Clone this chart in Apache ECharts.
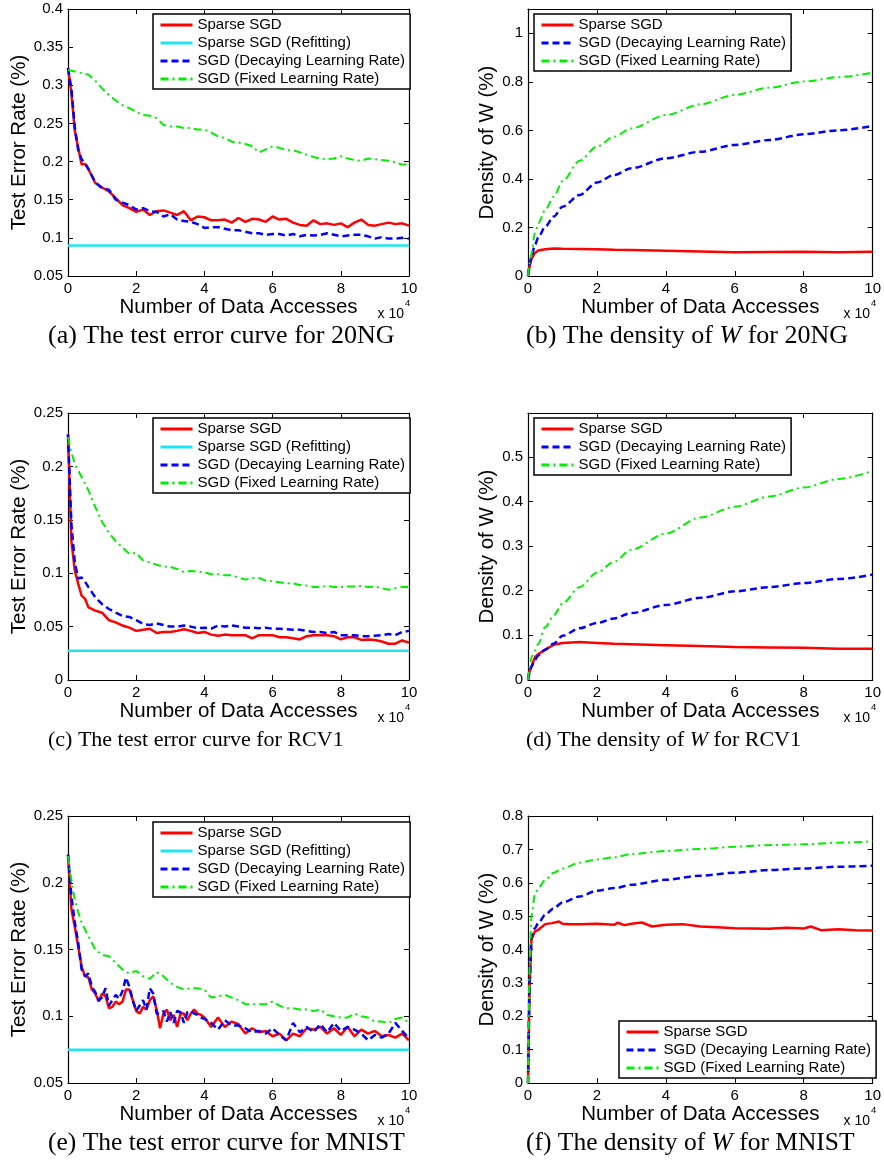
<!DOCTYPE html>
<html>
<head>
<meta charset="utf-8">
<script src="https://cdn.jsdelivr.net/npm/echarts@6/dist/echarts.min.js"></script>
<style>
html, body { margin: 0; padding: 0; background: #fff; }
#chart { width: 884px; height: 1167px; }
</style>
</head>
<body>
<div id="chart"></div>
<script>
const SANS = '"Liberation Sans", Arial, sans-serif'
const SERIF = '"Liberation Serif", "Times New Roman", serif'

// x positions (units of 10^4 data accesses)
const errX = [0, 0.1, 0.2, 0.3, 0.4, 0.5, 0.6, 0.8, 1, 1.2, 1.4, 1.6, 1.8, 2, 2.2, 2.4, 2.6, 2.8, 3, 3.2, 3.4, 3.6, 3.8, 4,
  4.2, 4.4, 4.6, 4.8, 5, 5.2, 5.4, 5.6, 5.8, 6, 6.2, 6.4, 6.6, 6.8, 7, 7.2, 7.4, 7.6, 7.8, 8, 8.2, 8.4, 8.6, 8.8, 9,
  9.2, 9.4, 9.6, 9.8, 10]
const mnistX = [0, 0.1, 0.2, 0.3, 0.4, 0.5, 0.6, 0.7, 0.8, 0.9, 1, 1.1, 1.2, 1.3, 1.4, 1.5, 1.6, 1.7, 1.8, 1.9, 2, 2.1,
  2.2, 2.3, 2.4, 2.5, 2.6, 2.7, 2.8, 2.9, 3, 3.1, 3.2, 3.3, 3.4, 3.5, 3.6, 3.7, 3.8, 3.9, 4, 4.2, 4.4, 4.6, 4.8, 5,
  5.2, 5.4, 5.6, 5.8, 6, 6.2, 6.4, 6.6, 6.8, 7, 7.2, 7.4, 7.6, 7.8, 8, 8.2, 8.4, 8.6, 8.8, 9, 9.2, 9.4, 9.6, 9.8, 10]
const denX = [0, 0.05, 0.1, 0.2, 0.3, 0.5, 0.75, 1, 1.5, 2, 2.5, 3, 4, 5, 6, 7, 8, 9, 10]
const mnistDenRedX = [0, 0.05, 0.1, 0.2, 0.3, 0.5, 0.7, 0.9, 1, 1.2, 1.5, 2, 2.5, 2.6, 2.8, 3, 3.3, 3.6, 4, 4.5, 5,
  5.5, 6, 6.5, 7, 7.5, 8, 8.2, 8.5, 9, 9.5, 10]
const refitX = [0, 10]

// (a) 20NG test error
const ngErrSparse = [0.3225, 0.29, 0.24, 0.218, 0.196, 0.197, 0.19, 0.172, 0.166, 0.161, 0.152, 0.143, 0.139, 0.134,
  0.137, 0.130, 0.135, 0.136, 0.133, 0.130, 0.135, 0.123, 0.128, 0.127, 0.123, 0.123, 0.124, 0.120, 0.126, 0.121,
  0.125, 0.124, 0.121, 0.128, 0.124, 0.125, 0.120, 0.117, 0.116, 0.123, 0.118, 0.119, 0.117, 0.119, 0.114, 0.120,
  0.124, 0.117, 0.116, 0.118, 0.120, 0.118, 0.119, 0.116]
const ngErrRefit = [0.09, 0.09]
const ngErrDecay = [0.3225, 0.295, 0.245, 0.215, 0.203, 0.198, 0.19, 0.173, 0.165, 0.163, 0.150, 0.146, 0.143, 0.137,
  0.139, 0.135, 0.134, 0.128, 0.131, 0.124, 0.122, 0.121, 0.118, 0.113, 0.114, 0.114, 0.112, 0.110, 0.110, 0.108,
  0.106, 0.106, 0.104, 0.105, 0.105, 0.103, 0.105, 0.102, 0.104, 0.103, 0.104, 0.106, 0.104, 0.102, 0.103, 0.104,
  0.104, 0.102, 0.099, 0.101, 0.099, 0.099, 0.100, 0.099]
const ngErrFixed = [0.320, 0.319, 0.318, 0.317, 0.316, 0.315, 0.314, 0.306, 0.296, 0.287, 0.280, 0.274, 0.270, 0.265,
  0.261, 0.260, 0.257, 0.248, 0.246, 0.246, 0.244, 0.244, 0.242, 0.242, 0.238, 0.233, 0.231, 0.226, 0.225, 0.223,
  0.220, 0.212, 0.216, 0.220, 0.218, 0.215, 0.215, 0.212, 0.209, 0.206, 0.204, 0.203, 0.204, 0.207, 0.204, 0.202,
  0.201, 0.204, 0.203, 0.202, 0.201, 0.199, 0.196, 0.197]

// (b) 20NG density
const ngDenSparse = [0, 0.04, 0.07, 0.095, 0.105, 0.11, 0.113, 0.112, 0.111, 0.11, 0.108, 0.107, 0.104, 0.101, 0.098,
  0.099, 0.100, 0.098, 0.10]
const ngDenDecay = [0, 0.05, 0.08, 0.128, 0.16, 0.203, 0.245, 0.285, 0.334, 0.385, 0.416, 0.444, 0.485, 0.512, 0.54,
  0.56, 0.584, 0.60, 0.618]
const ngDenFixed = [0, 0.055, 0.093, 0.176, 0.217, 0.272, 0.327, 0.39, 0.475, 0.533, 0.574, 0.608, 0.663, 0.707,
  0.746, 0.776, 0.801, 0.819, 0.838]

// (c) RCV1 test error
const rcvErrSparse = [0.23, 0.13, 0.1025, 0.09, 0.079, 0.076, 0.068, 0.065, 0.063, 0.056, 0.054, 0.051, 0.049, 0.046,
  0.047, 0.048, 0.044, 0.045, 0.045, 0.046, 0.0475, 0.046, 0.044, 0.045, 0.0425, 0.0415, 0.0425, 0.042, 0.042,
  0.042, 0.039, 0.042, 0.042, 0.042, 0.040, 0.040, 0.039, 0.038, 0.041, 0.042, 0.042, 0.042, 0.041, 0.038, 0.040,
  0.040, 0.0375, 0.038, 0.0375, 0.036, 0.034, 0.034, 0.037, 0.035]
const rcvErrRefit = [0.0275, 0.0275]
const rcvErrDecay = [0.23, 0.146, 0.11, 0.095, 0.096, 0.092, 0.087, 0.0775, 0.071, 0.0665, 0.063, 0.060, 0.059,
  0.056, 0.0525, 0.0515, 0.053, 0.0515, 0.050, 0.050, 0.051, 0.050, 0.0485, 0.049, 0.048, 0.051, 0.050, 0.051,
  0.050, 0.049, 0.049, 0.0485, 0.049, 0.048, 0.048, 0.0475, 0.047, 0.047, 0.046, 0.045, 0.045, 0.044, 0.045, 0.042,
  0.042, 0.042, 0.041, 0.041, 0.0415, 0.042, 0.043, 0.042, 0.045, 0.046]
const rcvErrFixed = [0.2275, 0.213, 0.2025, 0.196, 0.19, 0.184, 0.1775, 0.162, 0.148, 0.138, 0.13, 0.124, 0.118,
  0.119, 0.112, 0.110, 0.108, 0.106, 0.106, 0.104, 0.101, 0.102, 0.1015, 0.101, 0.099, 0.099, 0.098, 0.098, 0.096,
  0.094, 0.0955, 0.0955, 0.093, 0.0925, 0.0915, 0.0905, 0.0905, 0.089, 0.0885, 0.087, 0.087, 0.088, 0.087, 0.087,
  0.0875, 0.0875, 0.088, 0.087, 0.0875, 0.086, 0.0845, 0.086, 0.087, 0.087]

// (d) RCV1 density
const rcvDenSparse = [0, 0.02, 0.03, 0.051, 0.058, 0.068, 0.079, 0.083, 0.085, 0.083, 0.081, 0.080, 0.078, 0.076,
  0.074, 0.073, 0.072, 0.070, 0.070]
const rcvDenDecay = [0, 0.02, 0.03, 0.045, 0.055, 0.068, 0.082, 0.099, 0.116, 0.1275, 0.138, 0.15, 0.168, 0.184,
  0.1985, 0.208, 0.217, 0.226, 0.236]
const rcvDenFixed = [0, 0.03, 0.051, 0.066, 0.081, 0.118, 0.145, 0.171, 0.208, 0.24, 0.265, 0.292, 0.328, 0.364,
  0.388, 0.411, 0.431, 0.45, 0.4685]

// (e) MNIST test error
const mnErrSparse = [0.221, 0.18, 0.167, 0.152, 0.137, 0.13, 0.129, 0.12, 0.117, 0.111, 0.117, 0.115, 0.106, 0.107,
  0.111, 0.109, 0.111, 0.120, 0.120, 0.112, 0.104, 0.102, 0.107, 0.105, 0.112, 0.115, 0.105, 0.091, 0.102, 0.105,
  0.097, 0.101, 0.092, 0.102, 0.102, 0.097, 0.102, 0.105, 0.102, 0.101, 0.099, 0.092, 0.099, 0.092, 0.096, 0.094,
  0.087, 0.091, 0.088, 0.089, 0.085, 0.087, 0.082, 0.087, 0.085, 0.091, 0.090, 0.092, 0.087, 0.091, 0.086, 0.092,
  0.085, 0.090, 0.087, 0.089, 0.085, 0.086, 0.084, 0.087, 0.082]
const mnErrRefit = [0.075, 0.075]
const mnErrDecay = [0.221, 0.19, 0.17, 0.155, 0.135, 0.13, 0.132, 0.122, 0.118, 0.112, 0.114, 0.121, 0.108, 0.112,
  0.116, 0.113, 0.119, 0.129, 0.122, 0.112, 0.104, 0.108, 0.112, 0.105, 0.121, 0.117, 0.102, 0.102, 0.104, 0.096,
  0.103, 0.095, 0.104, 0.103, 0.095, 0.103, 0.104, 0.102, 0.101, 0.099, 0.098, 0.095, 0.090, 0.097, 0.093, 0.093,
  0.091, 0.088, 0.089, 0.087, 0.091, 0.086, 0.082, 0.095, 0.088, 0.092, 0.088, 0.094, 0.088, 0.095, 0.089, 0.092,
  0.090, 0.087, 0.082, 0.086, 0.084, 0.087, 0.095, 0.089, 0.083]
const mnErrFixed = [0.22, 0.202, 0.187, 0.178, 0.17, 0.165, 0.16, 0.15, 0.146, 0.145, 0.140, 0.135, 0.132, 0.134,
  0.130, 0.128, 0.133, 0.130, 0.125, 0.122, 0.120, 0.121, 0.121, 0.120, 0.114, 0.115, 0.116, 0.114, 0.112, 0.109,
  0.109, 0.109, 0.109, 0.111, 0.108, 0.106, 0.106, 0.105, 0.105, 0.104, 0.105, 0.101, 0.100, 0.099, 0.099, 0.102,
  0.100, 0.099, 0.096, 0.096, 0.095, 0.098, 0.099, 0.095]

// (f) MNIST density
const mnDenSparse = [0, 0.3, 0.43, 0.454, 0.459, 0.476, 0.479, 0.484, 0.477, 0.476, 0.476, 0.477, 0.474, 0.48, 0.473,
  0.477, 0.481, 0.469, 0.474, 0.476, 0.469, 0.467, 0.464, 0.463, 0.462, 0.465, 0.463, 0.469, 0.458, 0.461, 0.458,
  0.457]
const mnDenDecay = [0, 0.3, 0.44, 0.464, 0.479, 0.504, 0.524, 0.541, 0.559, 0.576, 0.584, 0.594, 0.609, 0.621, 0.63,
  0.638, 0.643, 0.648, 0.651]
const mnDenFixed = [0, 0.35, 0.499, 0.564, 0.584, 0.608, 0.63, 0.643, 0.66, 0.67, 0.676, 0.686, 0.695, 0.701, 0.708,
  0.713, 0.715, 0.72, 0.724]

const NAMES = {
  sparse: 'Sparse SGD',
  refit: 'Sparse SGD (Refitting)',
  decay: 'SGD (Decaying Learning Rate)',
  fixed: 'SGD (Fixed Learning Rate)',
}
const LINE = {
  sparse: { color: '#ff0000', width: 2.5, type: 'solid' },
  refit: { color: '#1ee6f0', width: 2.5, type: 'solid' },
  decay: { color: '#0000ff', width: 2.5, type: [7, 4] },
  fixed: { color: '#00ee00', width: 2, type: [8, 4, 2, 4] },
}

const panels = [
  {
    grid: { left: 68, top: 9, width: 341, height: 267 }, y: [0.05, 0.4, 0.05], yName: 'Test Error Rate (%)', yGap: 38,
    legend: { left: 153, top: 14 }, caption: '(a) The test error curve for 20NG', capX: 48, capSize: 26,
    lines: [['sparse', errX, ngErrSparse], ['refit', refitX, ngErrRefit], ['decay', errX, ngErrDecay], ['fixed', errX, ngErrFixed]],
  },
  {
    grid: { left: 528, top: 9, width: 347, height: 267 }, y: [0, 1.1, 0.2], yName: 'Density of W (%)', yGap: 30, hideMax: true,
    legend: { left: 534, top: 14 }, caption: '(b) The density of {i|W} for 20NG', capX: 526, capSize: 26,
    lines: [['sparse', denX, ngDenSparse], ['decay', denX, ngDenDecay], ['fixed', denX, ngDenFixed]], smooth: true,
  },
  {
    grid: { left: 68, top: 413, width: 341, height: 267 }, y: [0, 0.25, 0.05], yName: 'Test Error Rate (%)', yGap: 38,
    legend: { left: 153, top: 418 }, caption: '(c) The test error curve for RCV1', capX: 48, capSize: 22,
    lines: [['sparse', errX, rcvErrSparse], ['refit', refitX, rcvErrRefit], ['decay', errX, rcvErrDecay], ['fixed', errX, rcvErrFixed]],
  },
  {
    grid: { left: 528, top: 413, width: 347, height: 267 }, y: [0, 0.598, 0.1], yName: 'Density of W (%)', yGap: 30, hideMax: true,
    legend: { left: 534, top: 418 }, caption: '(d) The density of {i|W} for RCV1', capX: 526, capSize: 22,
    lines: [['sparse', denX, rcvDenSparse], ['decay', denX, rcvDenDecay], ['fixed', denX, rcvDenFixed]], smooth: true,
  },
  {
    grid: { left: 68, top: 816, width: 341, height: 267 }, y: [0.05, 0.25, 0.05], yName: 'Test Error Rate (%)', yGap: 38,
    legend: { left: 153, top: 822 }, caption: '(e) The test error curve for MNIST', capX: 48, capSize: 25.5,
    lines: [['sparse', mnistX, mnErrSparse], ['refit', refitX, mnErrRefit], ['decay', mnistX, mnErrDecay], ['fixed', errX, mnErrFixed]],
  },
  {
    grid: { left: 528, top: 816, width: 347, height: 267 }, y: [0, 0.8, 0.1], yName: 'Density of W (%)', yGap: 30,
    legend: { left: 619, top: 1021 }, caption: '(f) The density of {i|W} for MNIST', capX: 526, capSize: 25.5,
    lines: [['sparse', mnistDenRedX, mnDenSparse], ['decay', denX, mnDenDecay], ['fixed', denX, mnDenFixed]], smooth: true,
  },
]

const tickLabel = { color: '#000', fontSize: 15, fontFamily: SANS }
const axisLine = { onZero: false, lineStyle: { color: '#000', width: 1.2 } }
const axisTick = { inside: true, length: 5, lineStyle: { color: '#000', width: 1 } }

const grid = [], xAxis = [], yAxis = [], series = [], legend = [], graphic = []

panels.forEach((p, i) => {
  grid.push({ ...p.grid, show: false })
  const [yMin, yMax, yInt] = p.y
  for (const pos of ['bottom', 'top']) {
    xAxis.push({
      type: 'value', gridIndex: i, position: pos, min: 0, max: 10, interval: 2,
      axisLine, axisTick, splitLine: { show: false },
      axisLabel: { ...tickLabel, show: pos === 'bottom', margin: 5 },
      name: pos === 'bottom' ? 'Number of Data Accesses' : '', nameLocation: 'middle', nameGap: 20,
      nameTextStyle: { color: '#000', fontSize: 20.5, fontFamily: SANS },
    })
  }
  for (const pos of ['left', 'right']) {
    yAxis.push({
      type: 'value', gridIndex: i, position: pos, min: yMin, max: yMax, interval: yInt,
      axisLine, axisTick, splitLine: { show: false },
      axisLabel: { ...tickLabel, show: pos === 'left', margin: 5, showMaxLabel: !p.hideMax },
      name: pos === 'left' ? p.yName : '', nameLocation: 'middle', nameGap: p.yGap,
      nameTextStyle: { color: '#000', fontSize: 20.5, fontFamily: SANS },
    })
  }
  for (const [key, xs, ys] of p.lines) {
    series.push({
      type: 'line', name: NAMES[key], xAxisIndex: 2 * i, yAxisIndex: 2 * i,
      data: xs.map((x, k) => [x, ys[k]]),
      symbol: 'none', silent: true,
      smooth: p.smooth && key !== 'sparse' ? 0.3 : false, smoothMonotone: 'x',
      lineStyle: { ...LINE[key] }, itemStyle: { color: LINE[key].color },
    })
  }
  legend.push({
    orient: 'vertical', left: p.legend.left, top: p.legend.top,
    data: p.lines.map((l) => NAMES[l[0]]),
    itemWidth: 32, itemHeight: 18, itemGap: 0, padding: [2, 5, 1, 6],
    borderColor: '#000', borderWidth: 1.5, borderRadius: 0, backgroundColor: '#fff',
    selectedMode: false,
    itemStyle: { opacity: 0 },
    lineStyle: { width: 3 },
    textStyle: { color: '#000', fontSize: 15, fontFamily: SANS, lineHeight: 18 },
  })
  const right = p.grid.left + p.grid.width
  const bottom = p.grid.top + p.grid.height
  graphic.push(
    { type: 'text', x: right - 5, y: bottom + 38, style: { text: 'x 10', fontSize: 14, fontFamily: SANS, fill: '#000', align: 'right', verticalAlign: 'middle' } },
    { type: 'text', x: right - 4, y: bottom + 27, style: { text: '4', fontSize: 9.5, fontFamily: SANS, fill: '#000', align: 'left', verticalAlign: 'middle' } },
    {
      type: 'text', x: p.capX, y: bottom + 60.5,
      style: {
        text: p.caption, fontSize: p.capSize, fontFamily: SERIF, fill: '#000', align: 'left', verticalAlign: 'middle',
        rich: { i: { fontStyle: 'italic', fontSize: p.capSize, fontFamily: SERIF } },
      },
    },
  )
})

const chart = echarts.init(document.getElementById('chart'), null, { renderer: 'canvas' })
chart.setOption({
  animation: false,
  backgroundColor: '#fff',
  grid, xAxis, yAxis, series, legend, graphic,
})
</script>
</body>
</html>
